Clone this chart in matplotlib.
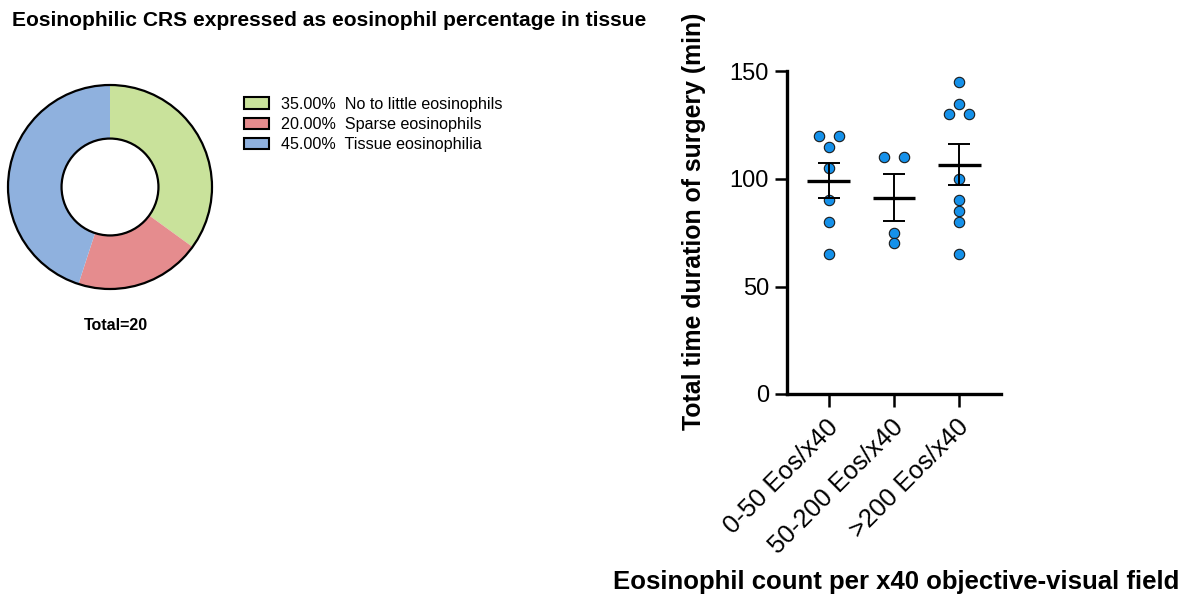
import numpy as np
import matplotlib
matplotlib.use("Agg")
import matplotlib.pyplot as plt
import matplotlib.transforms as mtransforms
from matplotlib.patches import Circle, Patch

plt.rcParams['font.family'] = ['Liberation Sans', 'DejaVu Sans']

# Donut chart data
pie_labels = ["No to little eosinophils", "Sparse eosinophils", "Tissue eosinophilia"]
pie_counts = [7, 4, 9]
pie_colors = ["#C9E29B", "#E58C8E", "#8FB1DE"]

# Scatter (surgery duration) data
groups = ["0-50 Eos/x40", "50-200 Eos/x40", ">200 Eos/x40"]
g1 = [120, 120, 115, 105, 90, 80, 65]
g2 = [110, 110, 75, 70]
g3 = [145, 135, 130, 130, 100, 90, 85, 80, 65]
# horizontal jitter of tied points
g1_dx = [-0.15, 0.15, 0, 0, 0, 0, 0]
g2_dx = [-0.15, 0.15, 0, 0]
g3_dx = [0, 0, -0.15, 0.15, 0, 0, 0, 0, 0]
yticks = [0, 50, 100, 150]

W, H = 1189, 601
fig = plt.figure(figsize=(W / 100, H / 100), dpi=100)

# ---------- donut ----------
cx, cy, R = 110, 187, 102
half = 110
axp = fig.add_axes([(cx - half) / W, (H - cy - half) / H, 2 * half / W, 2 * half / H])
axp.axis('off')
inner = 0.475
axp.pie(pie_counts, colors=pie_colors, startangle=90, counterclock=False,
        radius=1, wedgeprops=dict(width=1 - inner, edgecolor='none', linewidth=0))
axp.set_aspect('equal')
axp.set_xlim(-half / R, half / R)
axp.set_ylim(-half / R, half / R)
axp.add_patch(Circle((0, 0), 1, fill=False, edgecolor='black', lw=1.6))
axp.add_patch(Circle((0, 0), inner, fill=False, edgecolor='black', lw=1.6))

total = sum(pie_counts)
handles = [Patch(facecolor=c, edgecolor='black', linewidth=1.5) for c in pie_colors]
labels = [f"{100 * n / total:.2f}%  {lab}" for n, lab in zip(pie_counts, pie_labels)]
fig.legend(handles, labels, loc='upper left', bbox_to_anchor=(244 / W, 1 - 96.5 / H),
           frameon=False, borderpad=0, borderaxespad=0, fontsize=11.6,
           handlelength=1.55, handleheight=0.7, handletextpad=0.75, labelspacing=0.34)

fig.text(116 / W, 1 - 326 / H, f"Total={total}", ha='center', va='center',
         fontsize=11.5, fontweight='bold')
fig.text(12 / W, 1 - 20.5 / H, "Eosinophilic CRS expressed as eosinophil percentage in tissue",
         ha='left', va='center', fontsize=15.1, fontweight='bold')

# ---------- scatter ----------
x0, x1 = 787, 1001
y_top, y_bot = 71.5, 394
ax = fig.add_axes([x0 / W, (H - y_bot) / H, (x1 - x0) / W, (y_bot - y_top) / H])
ax.set_xlim(-0.645, 2.645)
ax.set_ylim(0, 150)

dot_color = "#1591EA"
for i, (vals, dx) in enumerate([(g1, g1_dx), (g2, g2_dx), (g3, g3_dx)]):
    v = np.array(vals, dtype=float)
    ax.scatter(i + np.array(dx), v, s=56, color=dot_color, edgecolor='#1a1a1a',
               linewidth=0.8, zorder=3, clip_on=False)
    m = v.mean()
    sem = v.std(ddof=1) / np.sqrt(len(v))
    ax.plot([i - 0.33, i + 0.33], [m, m], color='black', lw=2.4, zorder=4,
            solid_capstyle='butt')
    ax.errorbar([i], [m], yerr=[sem], fmt='none', ecolor='black', elinewidth=1.4,
                capsize=8, capthick=1.4, zorder=4)

for s in ['top', 'right']:
    ax.spines[s].set_visible(False)
for s in ['left', 'bottom']:
    ax.spines[s].set_linewidth(2.4)
ax.set_yticks(yticks)
ax.set_xticks(range(len(groups)))
ax.set_xticklabels(groups, rotation=45, ha='right', va='top', rotation_mode='anchor')
ax.tick_params(axis='both', labelsize=17, width=1.8, length=9, pad=4)
ax.tick_params(axis='x', labelsize=18.4, pad=7)
shift = mtransforms.ScaledTranslation(-3 / 100, 1.5 / 100, fig.dpi_scale_trans)
for lab in ax.get_xticklabels():
    lab.set_transform(lab.get_transform() + shift)

fig.text(694 / W, 1 - 221.5 / H, "Total time duration of surgery (min)", rotation=90,
         ha='center', va='center', fontsize=17.9, fontweight='bold')
fig.text(896 / W, 1 - 582 / H, "Eosinophil count per x40 objective-visual field",
         ha='center', va='center', fontsize=18.5, fontweight='bold')

fig.savefig("out.png", dpi=100)
